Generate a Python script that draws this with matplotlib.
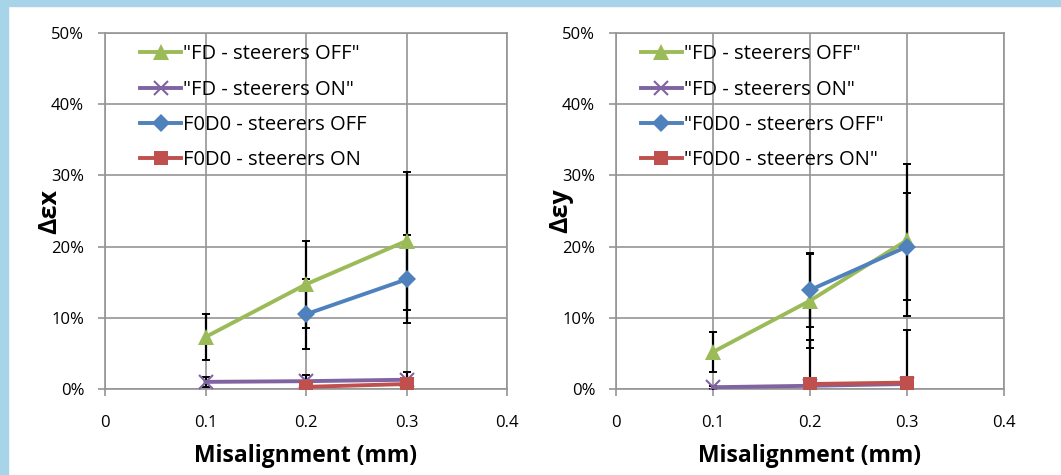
import matplotlib
matplotlib.use("Agg")
import matplotlib.pyplot as plt
from matplotlib.ticker import FuncFormatter
from matplotlib.patches import Rectangle

plt.rcParams["font.family"] = ["Open Sans", "DejaVu Sans"]

# misalignment (mm)
x_fd = [0.1, 0.2, 0.3]
x_f0d0 = [0.2, 0.3]

# emittance growth, in %
fd_off_x = [7.3, 14.7, 20.8]
fd_off_x_err = [3.25, 6.1, 9.7]
fd_on_x = [1.0, 1.1, 1.3]
fd_on_x_err = [0.7, 0.9, 1.1]
f0d0_off_x = [10.5, 15.4]
f0d0_off_x_err = [4.9, 6.2]
f0d0_on_x = [0.3, 0.7]
f0d0_on_x_err = [0.5, 0.6]

fd_off_y = [5.2, 12.4, 20.9]
fd_off_y_err = [2.8, 6.6, 10.7]
fd_on_y = [0.25, 0.45, 0.7]
fd_on_y_err = [0.2, 0.2, 0.2]
f0d0_off_y = [13.9, 20.0]
f0d0_off_y_err = [5.2, 7.5]
f0d0_on_y = [0.7, 0.9]
f0d0_on_y_err = [6.2, 7.4]

labels_x = ['"FD - steerers OFF"', '"FD - steerers ON"',
            'F0D0 - steerers OFF', 'F0D0 - steerers ON']
labels_y = ['"FD - steerers OFF"', '"FD - steerers ON"',
            '"F0D0 - steerers OFF"', '"F0D0 - steerers ON"']

GREEN, PURPLE, BLUE, RED = "#9BBB59", "#8064A2", "#4F81BD", "#C0504D"
GRID = "#959595"

fig = plt.figure(figsize=(10.61, 4.75), dpi=100)
# light blue slide border (left and top)
fig.patches.append(Rectangle((0, 0), 8 / 1061, 1, transform=fig.transFigure,
                             color="#A8D4EA", zorder=0))
fig.patches.append(Rectangle((0, 1 - 6 / 475), 1, 6 / 475, transform=fig.transFigure,
                             color="#A8D4EA", zorder=0))

ax1 = fig.add_axes([105 / 1061, 1 - 389 / 475, 402 / 1061, 356 / 475])
ax2 = fig.add_axes([616 / 1061, 1 - 389 / 475, 388 / 1061, 356 / 475])


def draw(ax, series, labels, ylabel, leg_x):
    styles = [(GREEN, "^", 11), (PURPLE, "x", 10), (BLUE, "D", 9), (RED, "s", 10)]
    handles = []
    for (xs, ys, es), (c, m, ms), lab in zip(series, styles, labels):
        yv = [v / 100 for v in ys]
        ev = [v / 100 for v in es]
        ax.errorbar(xs, yv, yerr=ev, fmt="none", ecolor="black", elinewidth=1.6,
                    capsize=3.2, capthick=1.4, zorder=3)
        h, = ax.plot(xs, yv, color=c, lw=2.8, marker=m, ms=ms, mew=1.5 if m == "x" else 0,
                     mfc=c, mec=c, label=lab, zorder=4)
        handles.append(h)
    ax.set_xlim(0, 0.4)
    ax.set_ylim(0, 0.5)
    ax.set_xticks([0, 0.1, 0.2, 0.3, 0.4])
    ax.set_xticklabels(["0", "0.1", "0.2", "0.3", "0.4"])
    ax.set_yticks([0, 0.1, 0.2, 0.3, 0.4, 0.5])
    ax.yaxis.set_major_formatter(FuncFormatter(lambda v, p: f"{v * 100:.0f}%"))
    ax.grid(True, color=GRID, lw=1.2)
    ax.set_axisbelow(True)
    for s in ax.spines.values():
        s.set_color(GRID)
        s.set_linewidth(1.2)
    ax.tick_params(axis="both", colors=GRID, labelcolor="black", labelsize=12,
                   length=5, width=1.2, direction="out")
    ax.tick_params(axis="x", pad=14)
    ax.tick_params(axis="y", pad=10)
    ax.set_xlabel("Misalignment (mm)", fontsize=16.5, fontweight="bold", labelpad=9)
    ax.set_ylabel(ylabel, fontsize=18, fontweight="bold", labelpad=-8)
    ax.legend(handles=handles, loc="upper left", bbox_to_anchor=(leg_x, 1.008),
              frameon=False, fontsize=14.5, handlelength=2.0, handletextpad=0.1,
              labelspacing=0.76, borderaxespad=0.3)


draw(ax1,
     [(x_fd, fd_off_x, fd_off_x_err), (x_fd, fd_on_x, fd_on_x_err),
      (x_f0d0, f0d0_off_x, f0d0_off_x_err), (x_f0d0, f0d0_on_x, f0d0_on_x_err)],
     labels_x, "Δεx", 0.053)
draw(ax2,
     [(x_fd, fd_off_y, fd_off_y_err), (x_fd, fd_on_y, fd_on_y_err),
      (x_f0d0, f0d0_off_y, f0d0_off_y_err), (x_f0d0, f0d0_on_y, f0d0_on_y_err)],
     labels_y, "Δεy", 0.029)

fig.savefig("out.png", dpi=100)
